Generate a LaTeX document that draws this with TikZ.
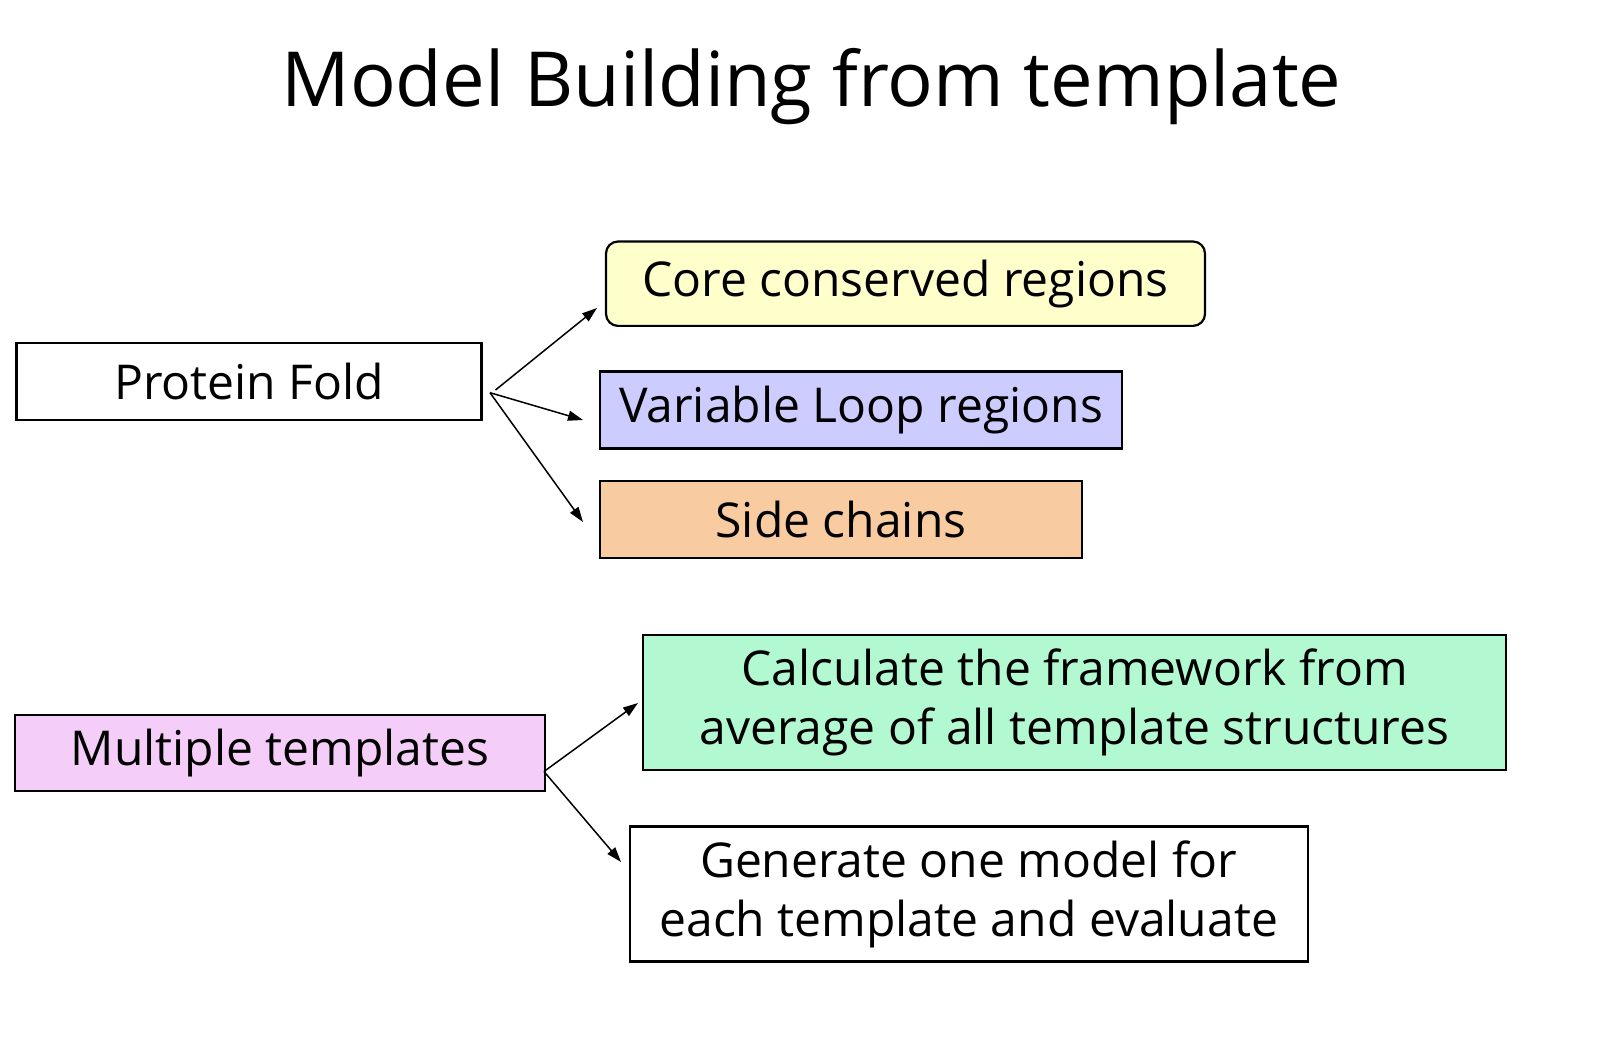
\documentclass[tikz,border=0pt]{standalone}
\usepackage{fontspec}
\setmainfont{Open Sans}
\usetikzlibrary{arrows.meta}
\definecolor{coreC}{HTML}{FFFFCC}
\definecolor{varC}{HTML}{CCCCFF}
\definecolor{sideC}{HTML}{F8CCA0}
\definecolor{multC}{HTML}{F4CDF9}
\definecolor{calcC}{HTML}{B2F9D1}
\tikzset{
  box/.style={draw=black, line width=1.1pt, inner sep=0pt, align=center,
    font=\fontsize{24}{29.5}\selectfont},
  conn/.style={line width=0.75pt, -{Triangle[length=7.5pt,width=5pt]}},
}
\begin{document}
\begin{tikzpicture}[x=0.5pt,y=-0.5pt]
\useasboundingbox (0,0) rectangle (1622,1042);
\node[font=\fontsize{38}{44}\selectfont] (title) at (811.5,87) {Model Building from template};

\node[box, minimum width=232.5pt, minimum height=38.5pt] (pf) at (249,381.5) {Protein Fold};
\node[box, fill=coreC, rounded corners=6pt, minimum width=299.5pt, minimum height=42.2pt] (core) at (905.5,283.7) {Core conserved regions};
\node[box, fill=varC, minimum width=261pt, minimum height=38.5pt] (var) at (861,410) {Variable Loop regions};
\node[box, fill=sideC, minimum width=241pt, minimum height=38.5pt] (side) at (841,519.5) {Side chains};

\node[box, fill=multC, minimum width=265pt, minimum height=38pt] (mult) at (280,753) {Multiple templates};
\node[box, fill=calcC, minimum width=431.5pt, minimum height=67.5pt] (calc) at (1074.5,702.5) {Calculate the framework from\\average of all template structures};
\node[box, minimum width=339pt, minimum height=67.5pt] (gen) at (968.7,894) {Generate one model for\\each template and evaluate};

\coordinate (pfa) at (495.5,390);
\coordinate (pfb) at (490,392.7);
\coordinate (coreT) at (597,308);
\coordinate (varT) at (583,420);
\coordinate (sideT) at (583,522);
\coordinate (ma) at (544,771.5);
\coordinate (calcT) at (638,703);
\coordinate (genT) at (621,862);

\draw[conn] (pfa) -- (coreT);
\draw[conn] (pfb) -- (varT);
\draw[conn] (pfb) -- (sideT);
\draw[conn] (ma) -- (calcT);
\draw[conn] (ma) -- (genT);
\end{tikzpicture}
\end{document}
